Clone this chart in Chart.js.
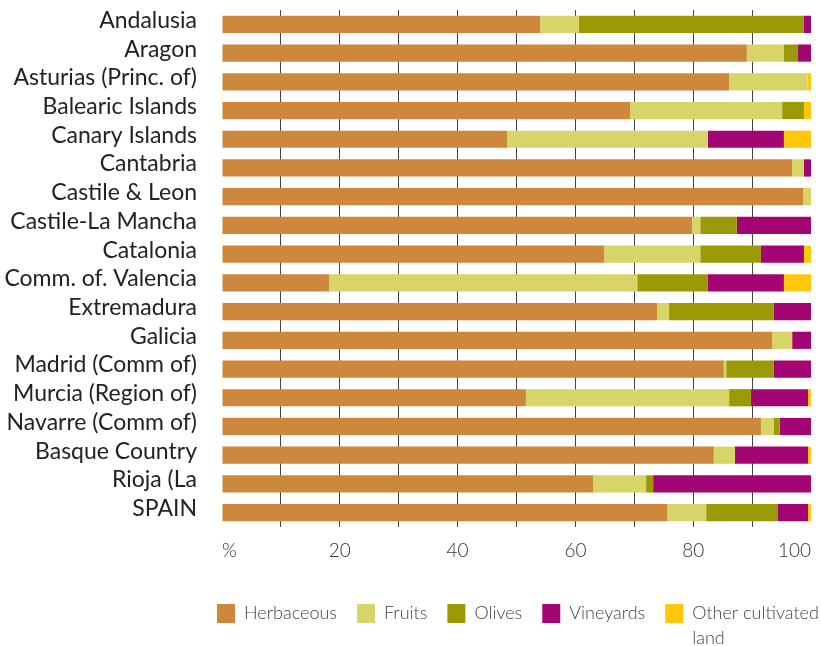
<!DOCTYPE html>
<html><head><meta charset="utf-8">
<script src="https://cdn.jsdelivr.net/npm/chart.js@4"></script>
<style>html,body{margin:0;padding:0;background:#fff}#wrap{width:821px;height:646px}</style>
</head><body><div id="wrap"><canvas id="c" width="821" height="646"></canvas></div>
<script>
const categories = ['Andalusia','Aragon','Asturias (Princ. of)','Balearic Islands','Canary Islands','Cantabria','Castile & Leon','Castile-La Mancha','Catalonia','Comm. of. Valencia','Extremadura','Galicia','Madrid (Comm of)','Murcia (Region of)','Navarre (Comm of)','Basque Country','Rioja (La','SPAIN'];
const herbaceous = [54.0,89.1,86.1,69.3,48.4,96.8,98.7,79.8,64.9,18.2,73.9,93.4,85.2,51.6,91.5,83.5,63.0,75.6];
const fruits     = [6.6,6.3,13.3,25.8,34.1,2.0,1.3,1.4,16.3,52.3,2.0,3.4,0.4,34.5,2.2,3.6,9.0,6.6];
const olives     = [38.2,2.4,0,3.7,0,0,0,6.2,10.3,12.0,17.8,0,8.1,3.7,1.0,0,1.2,12.2];
const vineyards  = [1.2,2.2,0,0,12.9,1.2,0,12.6,7.3,12.9,6.3,3.2,6.3,9.7,5.3,12.4,26.8,5.1];
const other      = [0,0,0.6,1.2,4.6,0,0,0,1.2,4.6,0,0,0,0.5,0,0.5,0,0.5];
const seriesNames = ['Herbaceous','Fruits','Olives','Vineyards','Other cultivated land'];
const legendLines = ['Herbaceous','Fruits','Olives','Vineyards',['Other cultivated','land']];
const tickValues = [0,20,40,60,80,100];
const tickLabels = ['%','20','40','60','80','100'];

const colors = ['#CD883D','#D7D468','#9A9A07','#A30672','#FDC80C'];
const seriesData = [herbaceous, fruits, olives, vineyards, other];
const FONT = 'Lato, "Liberation Sans", sans-serif';

const datasets = seriesNames.map((name, i) => ({
  label: name,
  data: seriesData[i],
  backgroundColor: colors[i],
  borderWidth: 0,
  barPercentage: 0.6,
  categoryPercentage: 1.0
}));

// place the legend row under the plot, starting near the plot's left edge
const legendPlace = {
  id: 'legendPlace',
  afterLayout(chart) {
    const lg = chart.legend;
    if (!lg) return;
    const pad = chart.options.plugins.legend.labels.padding;
    lg.left = chart.chartArea.left - 5 - pad;
    lg.right = chart.width + 200;
    lg.bottom = chart.height;
  }
};

new Chart(document.getElementById('c'), {
  type: 'bar',
  data: { labels: categories, datasets },
  plugins: [legendPlace],
  options: {
    indexAxis: 'y',
    responsive: false,
    animation: false,
    devicePixelRatio: 1,
    layout: { padding: { left: 0, right: 10, top: 10, bottom: 13 } },
    scales: {
      x: {
        stacked: true,
        min: 0, max: 100,
        border: { display: false },
        grid: {
          drawTicks: false,
          lineWidth: 1,
          color: c => (c.tick && (c.tick.value === 0 || c.tick.value === 100)) ? 'rgba(0,0,0,0)' : '#444'
        },
        ticks: {
          stepSize: 10,
          padding: 12,
          align: 'inner',
          maxRotation: 0,
          autoSkip: false,
          color: '#333',
          font: { family: FONT, size: 19, weight: 300 },
          callback: v => { const k = tickValues.indexOf(v); return k >= 0 ? tickLabels[k] : ''; }
        },
        afterFit: s => { s.height = 57; s.paddingLeft = 0; s.paddingRight = 0; }
      },
      y: {
        stacked: true,
        border: { display: false },
        grid: { display: false, drawTicks: false },
        ticks: {
          padding: 25,
          labelOffset: -4,
          autoSkip: false,
          color: '#222',
          font: { family: FONT, size: 23, weight: 400 }
        },
        afterFit: s => { s.width = 222; s.paddingTop = 0; s.paddingBottom = 0; }
      }
    },
    plugins: {
      tooltip: { enabled: false },
      legend: {
        position: 'bottom',
        align: 'start',
        labels: {
          boxWidth: 18,
          boxHeight: 19,
          padding: 20,
          color: '#444',
          font: { family: FONT, size: 18, weight: 300, lineHeight: 1.35 },
          generateLabels: chart => {
            const items = Chart.defaults.plugins.legend.labels.generateLabels(chart);
            items.forEach((it, i) => { it.text = legendLines[i]; });
            return items;
          }
        }
      }
    }
  }
});
</script></body></html>
